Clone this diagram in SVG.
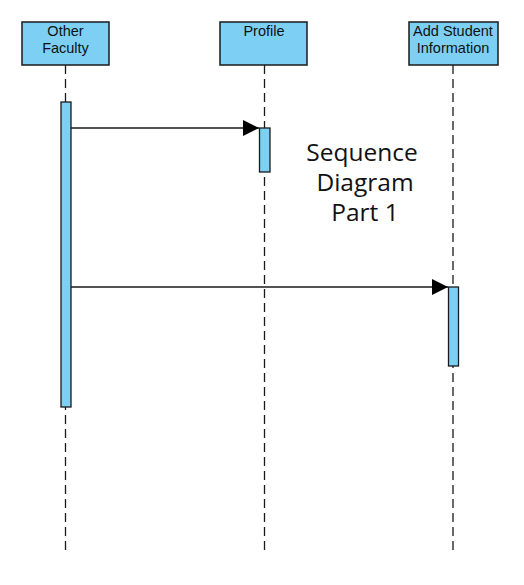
<svg xmlns="http://www.w3.org/2000/svg" width="524" height="585" viewBox="0 0 524 585">
<style>
.box{fill:#7dcff4;stroke:#1a1a1a;stroke-width:1.5}
.act{fill:#7dcff4;stroke:#1a1a1a;stroke-width:1.3}
.life{stroke:#1a1a1a;stroke-width:1.3;stroke-dasharray:9 5;fill:none}
.msg{stroke:#1a1a1a;stroke-width:1.3;fill:none}
.lbl{font-family:"Liberation Sans",Arial,sans-serif;font-size:14.5px;fill:#111;text-anchor:middle}
.note{font-family:"Open Sans","Noto Sans",sans-serif;font-size:24.5px;fill:#111;text-anchor:middle}
</style>
<defs>
<marker id="arr" markerWidth="16" markerHeight="16" refX="16" refY="8" orient="auto" markerUnits="userSpaceOnUse">
<path d="M0,0 L16,8 L0,16 Z" fill="#000"/>
</marker>
</defs>
<g id="lifelines">
<line class="life" x1="65.5" y1="65" x2="65.5" y2="552"/>
<line class="life" x1="264.5" y1="65" x2="264.5" y2="552"/>
<line class="life" x1="453" y1="65" x2="453" y2="552"/>
</g>
<g id="other-faculty">
<rect class="box" x="22" y="22" width="87" height="43"/>
<text class="lbl" x="65.5" y="36">Other</text>
<text class="lbl" x="65.5" y="53">Faculty</text>
</g>
<g id="profile">
<rect class="box" x="220" y="22" width="87" height="43"/>
<text class="lbl" x="264" y="36">Profile</text>
</g>
<g id="add-student">
<rect class="box" x="409" y="22" width="89" height="43"/>
<text class="lbl" x="453" y="36">Add Student</text>
<text class="lbl" x="453" y="53">Information</text>
</g>
<g id="activation-other">
<rect class="act" x="61" y="102" width="10" height="305"/>
</g>
<g id="activation-profile">
<rect class="act" x="259.5" y="128" width="10.5" height="44"/>
</g>
<g id="activation-add">
<rect class="act" x="448.5" y="287" width="10" height="79"/>
</g>
<g id="connectors">
<line class="msg" x1="71" y1="128" x2="259" y2="128" marker-end="url(#arr)"/>
<line class="msg" x1="71" y1="287" x2="448" y2="287" marker-end="url(#arr)"/>
</g>
<g id="note">
<text class="note" x="362" y="161">Sequence</text>
<text class="note" x="365" y="191">Diagram</text>
<text class="note" x="365" y="221">Part 1</text>
</g>
</svg>
